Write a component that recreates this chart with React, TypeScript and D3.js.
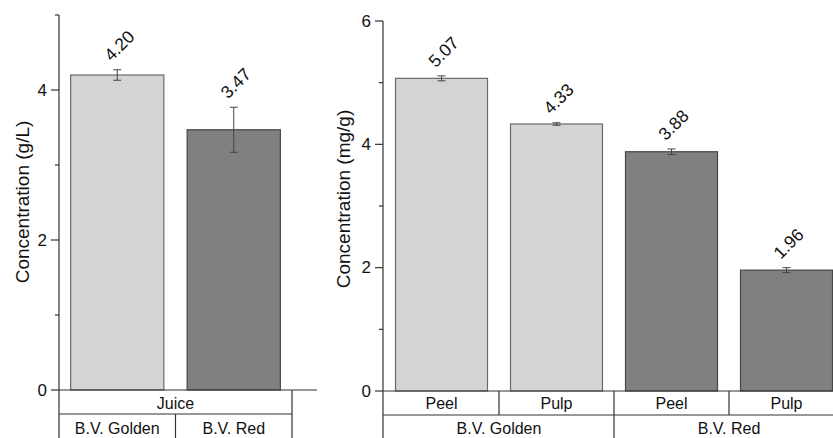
import React from "react";
import * as d3 from "d3";

const juiceCats = ["B.V. Golden", "B.V. Red"];
const juiceValues = [4.2, 3.47];
const juiceErrors = [0.07, 0.3];
const juiceGroups = ["golden", "red"];

const tissueCats = ["Golden Peel", "Golden Pulp", "Red Peel", "Red Pulp"];
const tissueLabels = ["Peel", "Pulp", "Peel", "Pulp"];
const tissueValues = [5.07, 4.33, 3.88, 1.96];
const tissueErrors = [0.04, 0.02, 0.045, 0.04];
const tissueGroups = ["golden", "golden", "red", "red"];
const varietyLabels = ["B.V. Golden", "B.V. Red"];

const leftTicks = [0, 2, 4];
const leftMinor = [1, 3, 5];
const rightTicks = [0, 2, 4, 6];
const rightMinor = [1, 3, 5];

const FONT = "Arial, 'Liberation Sans', sans-serif";
const fills: Record<string, string> = { golden: "#d4d4d4", red: "#808080" };
const strokes: Record<string, string> = { golden: "#6a6a6a", red: "#474747" };
const AX = "#333";

function Bars({ x, y, cats, values, errors, groups }: any) {
  const bw = x.bandwidth();
  return (
    <g>
      {cats.map((c: string, i: number) => {
        const x0 = x(c);
        const cx = x0 + bw / 2;
        const top = y(values[i]);
        const eTop = y(values[i] + errors[i]);
        const eBot = y(values[i] - errors[i]);
        const lx = cx + 2;
        const ly = eTop - 24;
        return (
          <g key={c}>
            <rect x={x0} y={top} width={bw} height={y(0) - top} fill={fills[groups[i]]} stroke={strokes[groups[i]]} strokeWidth={1.2} />
            <line x1={cx} x2={cx} y1={eTop} y2={eBot} stroke="#444" strokeWidth={1} />
            <line x1={cx - 4} x2={cx + 4} y1={eTop} y2={eTop} stroke="#444" strokeWidth={1} />
            <line x1={cx - 4} x2={cx + 4} y1={eBot} y2={eBot} stroke="#444" strokeWidth={1} />
            <text x={lx} y={ly} transform={`rotate(-45 ${lx} ${ly})`} textAnchor="middle" dominantBaseline="central" fontSize={17.5} fontFamily={FONT} fill="#111">
              {values[i].toFixed(2)}
            </text>
          </g>
        );
      })}
    </g>
  );
}

function YAxis({ y, ax, ticks, minor, top }: any) {
  return (
    <g>
      <line x1={ax} x2={ax} y1={top} y2={438} stroke={AX} strokeWidth={1.2} />
      {ticks.map((t: number) => (
        <g key={t}>
          <line x1={ax - 8} x2={ax} y1={y(t)} y2={y(t)} stroke={AX} strokeWidth={1.2} />
          <text x={ax - 12} y={y(t)} textAnchor="end" dominantBaseline="central" fontSize={17} fontFamily={FONT} fill="#111">{t}</text>
        </g>
      ))}
      {minor.map((t: number) => (
        <line key={t} x1={ax - 4} x2={ax} y1={y(t)} y2={y(t)} stroke={AX} strokeWidth={1.2} />
      ))}
    </g>
  );
}

export default function App() {
  const yL = d3.scaleLinear().domain([0, 5]).range([390, 15]);
  const xL = d3.scaleBand().domain(juiceCats).range([59, 292]).paddingInner(0.2).paddingOuter(0.1);
  const yR = d3.scaleLinear().domain([0, 6]).range([391, 21]);
  const xR = d3.scaleBand().domain(tissueCats).range([384, 844]).paddingInner(0.2).paddingOuter(0.1);
  const stepR = xR.step();
  const bandStartR = (c: string) => (xR(c) as number) - stepR * 0.1;

  return (
    <svg width={833} height={438} style={{ position: "absolute", left: 0, top: 0, background: "#fff" }}>
      {/* left panel */}
      <Bars x={xL} y={yL} cats={juiceCats} values={juiceValues} errors={juiceErrors} groups={juiceGroups} />
      <YAxis y={yL} ax={59} ticks={leftTicks} minor={leftMinor} top={15} />
      <line x1={59} x2={317} y1={390} y2={390} stroke={AX} strokeWidth={1.2} />
      <line x1={292} x2={292} y1={390} y2={438} stroke={AX} strokeWidth={1.2} />
      <line x1={59} x2={292} y1={414} y2={414} stroke={AX} strokeWidth={1.2} />
      <line x1={175.5} x2={175.5} y1={414} y2={438} stroke={AX} strokeWidth={1.2} />
      <text x={175.5} y={403} textAnchor="middle" dominantBaseline="central" fontSize={16} fontFamily={FONT} fill="#111">Juice</text>
      {juiceCats.map((c) => (
        <text key={c} x={(xL(c) as number) + xL.bandwidth() / 2} y={428} textAnchor="middle" dominantBaseline="central" fontSize={16} fontFamily={FONT} fill="#111">{c}</text>
      ))}
      <text x={22} y={202} transform="rotate(-90 22 202)" textAnchor="middle" dominantBaseline="central" fontSize={19} fontFamily={FONT} fill="#111">Concentration (g/L)</text>

      {/* right panel */}
      <Bars x={xR} y={yR} cats={tissueCats} values={tissueValues} errors={tissueErrors} groups={tissueGroups} />
      <YAxis y={yR} ax={383} ticks={rightTicks} minor={rightMinor} top={21} />
      <line x1={383} x2={833} y1={391} y2={391} stroke={AX} strokeWidth={1.2} />
      <line x1={383} x2={833} y1={415} y2={415} stroke={AX} strokeWidth={1.2} />
      {tissueCats.slice(1).map((c, i) => (
        <line key={c} x1={bandStartR(c)} x2={bandStartR(c)} y1={391} y2={i === 1 ? 438 : 415} stroke={AX} strokeWidth={1.2} />
      ))}
      {tissueCats.map((c, i) => (
        <text key={c} x={(xR(c) as number) + xR.bandwidth() / 2} y={403} textAnchor="middle" dominantBaseline="central" fontSize={16} fontFamily={FONT} fill="#111">{tissueLabels[i]}</text>
      ))}
      {varietyLabels.map((v, i) => {
        const a = bandStartR(tissueCats[i * 2]);
        const b = a + stepR * 2;
        return (
          <text key={v} x={(a + b) / 2} y={428} textAnchor="middle" dominantBaseline="central" fontSize={16} fontFamily={FONT} fill="#111">{v}</text>
        );
      })}
      <text x={343} y={199} transform="rotate(-90 343 199)" textAnchor="middle" dominantBaseline="central" fontSize={19} fontFamily={FONT} fill="#111">Concentration (mg/g)</text>
    </svg>
  );
}
